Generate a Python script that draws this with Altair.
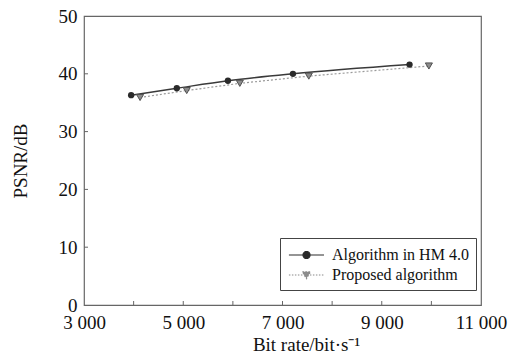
import altair as alt
import pandas as pd

# ---- data ----
series_names = ["Algorithm in HM 4.0", "Proposed algorithm"]
hm_rate = [3950, 4870, 5900, 7210, 9560]
hm_psnr = [36.3, 37.5, 38.8, 40.0, 41.6]
prop_rate = [4130, 5070, 6140, 7530, 9950]
prop_psnr = [35.9, 37.1, 38.35, 39.6, 41.35]

x_label_values = [3000, 5000, 7000, 9000, 11000]
x_tick_values = [4000, 5000, 6000, 7000, 8000, 9000, 10000]
y_label_values = [0, 10, 20, 30, 40, 50]
y_tick_values = [10, 20, 30, 40]

hm_df = pd.DataFrame({"rate": hm_rate, "psnr": hm_psnr, "series": series_names[0]})
prop_df = pd.DataFrame({"rate": prop_rate, "psnr": prop_psnr, "series": series_names[1]})
xt_df = pd.DataFrame({"rate": x_tick_values})
yt_df = pd.DataFrame({"psnr": y_tick_values})

FONT = "Liberation Serif"
W, H = 397, 289

x_scale = alt.Scale(domain=[3000, 11000], nice=False, zero=False)
y_scale = alt.Scale(domain=[0, 50], nice=False)

x_axis = alt.Axis(
    values=x_label_values, labelExpr="replace(format(datum.value, ','), ',', ' ')",
    title="Bit rate/bit·s⁻¹", titleX=222, titleY=45, titleBaseline="alphabetic",
    titleAlign="center", labelPadding=8, labelFlush=False,
)
y_axis = alt.Axis(
    values=y_label_values, title="PSNR/dB", titleX=-58, titleY=H / 2,
    titleBaseline="alphabetic", titleAlign="center", titleAngle=270, labelPadding=7,
)

def X(field="rate"):
    return alt.X(f"{field}:Q", scale=x_scale, axis=x_axis)

def Y(field="psnr"):
    return alt.Y(f"{field}:Q", scale=y_scale, axis=y_axis)

prop_line = alt.Chart(prop_df).mark_line(
    color="#9a9a9a", strokeWidth=1.2, strokeDash=[2, 2]
).encode(x=X(), y=Y())
hm_line = alt.Chart(hm_df).mark_line(
    color="#3a3a3a", strokeWidth=1.4, interpolate="monotone"
).encode(x=X(), y=Y())
prop_pts = alt.Chart(prop_df).mark_point(
    shape="triangle-down", filled=True, fill="#8c8c8c", stroke="#505050",
    strokeWidth=1, size=50, opacity=1
).encode(x=X(), y=Y())
hm_pts = alt.Chart(hm_df).mark_point(
    shape="circle", filled=True, color="#2a2a2a", size=40, opacity=1
).encode(x=X(), y=Y())

x_ticks = alt.Chart(xt_df).mark_rule(color="#666", strokeWidth=1).encode(
    x=X(), y=alt.value(H), y2=alt.value(H - 4)
)
y_ticks = alt.Chart(yt_df).mark_rule(color="#666", strokeWidth=1).encode(
    y=Y(), x=alt.value(0), x2=alt.value(4)
)

# legend-only layer (no marks drawn), symbols = line + marker
path_hm = "M-0.9,0L3,0M1.45,0A0.39,0.39,0,1,1,0.67,0A0.39,0.39,0,1,1,1.45,0Z"
path_prop = "M-0.9,0L3,0M0.6,-0.35L1.5,-0.35L1.05,0.4Z"
leg_df = pd.concat([hm_df, prop_df])
legend_layer = alt.Chart(leg_df).transform_filter("false").mark_point(
    filled=True, size=324, opacity=1
).encode(
    x=X(), y=Y(),
    shape=alt.Shape("series:N", scale=alt.Scale(domain=series_names, range=[path_hm, path_prop]), title=None),
    fill=alt.Fill("series:N", scale=alt.Scale(domain=series_names, range=["#2a2a2a", "#8c8c8c"]), title=None),
    stroke=alt.Stroke("series:N", scale=alt.Scale(domain=series_names, range=["#2a2a2a", "#8a8a8a"]), title=None),
    strokeDash=alt.StrokeDash("series:N", scale=alt.Scale(domain=series_names, range=[[1, 0], [1.5, 1.5]]), title=None),
)

chart = alt.layer(
    prop_line, hm_line, prop_pts, hm_pts, x_ticks, y_ticks, legend_layer
).properties(
    width=W, height=H,
    autosize=alt.AutoSizeParams(type="none"),
    padding={"left": 84, "top": 16, "right": 519 - 84 - W, "bottom": 363 - 16 - H},
).configure_view(
    stroke="#666", strokeWidth=1.2
).configure_axis(
    domain=False, ticks=False, grid=False,
    labelFont=FONT, labelFontSize=19, labelColor="#111",
    titleFont=FONT, titleFontSize=19, titleFontWeight="normal", titleColor="#111",
).configure_legend(
    orient="none", legendX=196, legendY=222, padding=7,
    strokeColor="#444", fillColor="white",
    labelFont=FONT, labelFontSize=16, labelColor="#111",
    symbolSize=324, symbolStrokeWidth=1.2, labelOffset=25, rowPadding=2,
)

chart.save("out.html", embed_options={"renderer": "svg", "actions": False})
